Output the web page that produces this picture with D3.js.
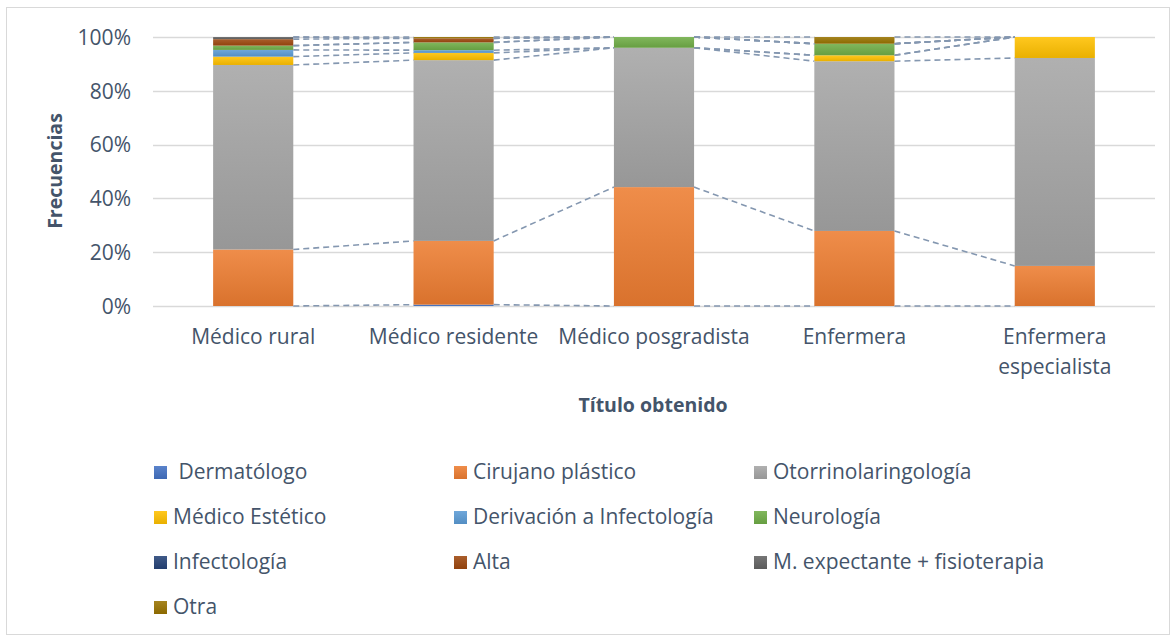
<!DOCTYPE html>
<html><head><meta charset="utf-8">
<script src="https://cdn.jsdelivr.net/npm/d3@7"></script>
<style>body{margin:0;background:#fff;font-family:"Open Sans",sans-serif}</style>
</head><body>
<svg id="c" width="1176" height="639"></svg>
<script>
const categories = ["Médico rural","Médico residente","Médico posgradista","Enfermera","Enfermera especialista"];
const seriesNames = [" Dermatólogo","Cirujano plástico","Otorrinolaringología","Médico Estético","Derivación a Infectología","Neurología","Infectología","Alta","M. expectante + fisioterapia","Otra"];
const dermatologo   = [0, 0.5, 0, 0, 0];
const cirujano      = [21.0, 23.7, 44.2, 27.9, 14.9];
const otorrino      = [68.6, 67.2, 51.8, 63.1, 77.3];
const estetico      = [3.1, 2.7, 0, 2.2, 7.8];
const derivacion    = [2.5, 1.0, 0, 0, 0];
const neurologia    = [1.6, 2.9, 4.0, 4.3, 0];
const infectologia  = [0, 0, 0, 0, 0];
const alta          = [2.4, 1.5, 0, 0, 0];
const expectante    = [0.8, 0, 0, 0, 0];
const otra          = [0, 0.5, 0, 2.5, 0];
const yTicks = [0, 0.2, 0.4, 0.6, 0.8, 1.0];
const colors = ["#4472C4","#ED7D31","#A5A5A5","#FFC000","#5B9BD5","#70AD47","#264478","#9E480E","#636363","#997300"];

const allValues = [dermatologo,cirujano,otorrino,estetico,derivacion,neurologia,infectologia,alta,expectante,otra];
const rows = categories.map((c,i)=>{const r={cat:c};seriesNames.forEach((s,j)=>r[s]=allValues[j][i]);return r;});
const stack = d3.stack().keys(seriesNames).offset(d3.stackOffsetExpand)(rows);

const svg = d3.select("#c");
const textCol = "#44546A";
const FONT = "Open Sans";
const FS = "21px", FSB = "19.5px";
svg.append("rect").attr("x",6.5).attr("y",7.5).attr("width",1163).attr("height",627).attr("fill","#fff").attr("stroke","#d9d9d9");

const plot = {l:153,r:1155,t:37,b:306};
const x = d3.scaleBand().domain(categories).range([plot.l,plot.r]).paddingInner(0.6).paddingOuter(0.3);
const y = d3.scaleLinear().domain([0,1]).range([plot.b,plot.t]);

const defs = svg.append("defs");
colors.forEach((c,i)=>{
  const g = defs.append("linearGradient").attr("id","g"+i).attr("x1",0).attr("y1",0).attr("x2",0).attr("y2",1);
  g.append("stop").attr("offset","0%").attr("stop-color",d3.interpolateRgb(c,"#fff")(0.12));
  g.append("stop").attr("offset","100%").attr("stop-color",d3.color(c).darker(0.25));
});

// gridlines
svg.append("g").selectAll("line").data(yTicks).join("line")
  .attr("x1",plot.l).attr("x2",plot.r).attr("y1",d=>Math.round(y(d))+0.5).attr("y2",d=>Math.round(y(d))+0.5)
  .attr("stroke","#d9d9d9").attr("stroke-width",1.3);

// y axis labels
const yAxis = d3.axisLeft(y).tickValues(yTicks).tickFormat(d3.format(".0%")).tickSize(0).tickPadding(0);
const ya = svg.append("g").attr("transform",`translate(131,0)`).call(yAxis);
ya.select(".domain").remove();
ya.selectAll("text").attr("fill",textCol).attr("font-size",FS).attr("font-family",FONT).attr("dy","0.35em");

// bars
svg.append("g").selectAll("g").data(stack).join("g").attr("fill",(d,i)=>`url(#g${i})`)
  .selectAll("rect").data(d=>d).join("rect")
  .attr("x",d=>x(d.data.cat)).attr("width",x.bandwidth())
  .attr("y",d=>y(d[1])).attr("height",d=>y(d[0])-y(d[1]));

// series lines
const sl = svg.append("g").attr("stroke","#8497B0").attr("stroke-width",1.6).attr("stroke-dasharray","6,4").attr("fill","none");
stack.forEach(s=>{
  for(let i=0;i<categories.length-1;i++){
    sl.append("line")
      .attr("x1",x(categories[i])+x.bandwidth()).attr("y1",y(s[i][1]))
      .attr("x2",x(categories[i+1])).attr("y2",y(s[i+1][1]));
  }
});

// x axis labels
const xl = svg.append("g");
categories.forEach(c=>{
  const words = c==="Enfermera especialista" ? ["Enfermera","especialista"] : [c];
  words.forEach((w,k)=>{
    xl.append("text").attr("x",x(c)+x.bandwidth()/2).attr("y",337+k*30).attr("dy","0.35em").attr("text-anchor","middle")
      .attr("fill",textCol).attr("font-size",FS).attr("font-family",FONT).text(w);
  });
});

// axis titles
svg.append("text").attr("x",653).attr("y",405).attr("dy","0.35em").attr("text-anchor","middle").attr("fill",textCol)
  .attr("font-weight","bold").attr("font-size",FSB).attr("font-family",FONT).text("Título obtenido");
svg.append("text").attr("transform","translate(55,171) rotate(-90)").attr("dy","0.35em").attr("text-anchor","middle").attr("fill",textCol)
  .attr("font-weight","bold").attr("font-size",FSB).attr("font-family",FONT).text("Frecuencias");

// legend
const lg = svg.append("g");
seriesNames.forEach((s,i)=>{
  const col = i%3, row = Math.floor(i/3);
  const gx = 154 + col*300, gy = 472 + row*45;
  lg.append("rect").attr("x",gx).attr("y",gy-6).attr("width",13).attr("height",13).attr("fill",`url(#g${i})`);
  lg.append("text").attr("x",gx+19).attr("y",gy).attr("dy","0.35em").attr("fill",textCol)
    .attr("font-size",FS).attr("font-family",FONT).attr("xml:space","preserve").style("white-space","pre").text(s);
});
</script>
</body></html>
